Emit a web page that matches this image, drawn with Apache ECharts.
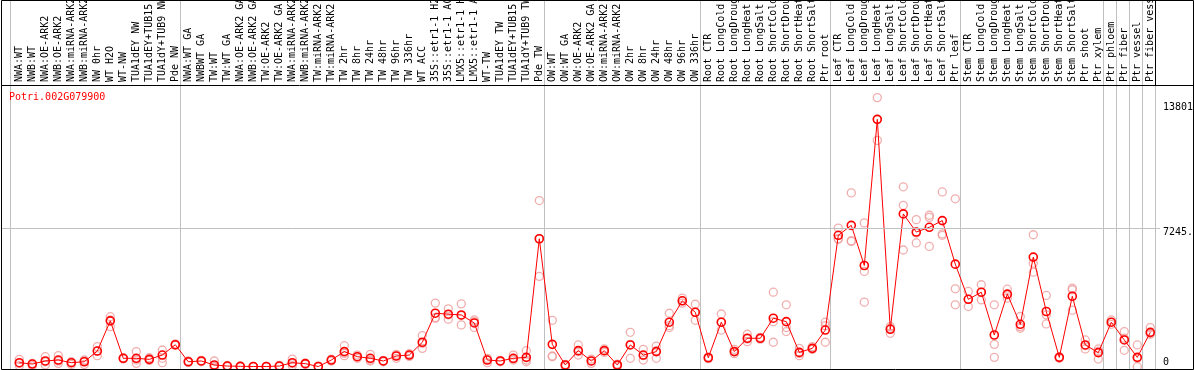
<!DOCTYPE html>
<html><head><meta charset="utf-8">
<script src="https://cdn.jsdelivr.net/npm/echarts@6/dist/echarts.min.js"></script>
<style>html,body{margin:0;padding:0;background:#fff}#c{width:1194px;height:370px}</style>
</head><body><div id="c"></div>
<script>
const geneId = 'Potri.002G079900';
const categories = [
'NWA:WT','NWB:WT','NWA:OE-ARK2','NWB:OE-ARK2','NWA:miRNA-ARK2','NWB:miRNA-ARK2','NW 0hr','WT H2O','WT-NW','TUA1dEY NW',
'TUA1dEY+TUB15','TUA1dY+TUB9 NW','Pde NW','NWA:WT GA','NWBWT GA','TW:WT','TW:WT GA','NWA:OE-ARK2 GA','NWB:OE-ARK2 GA','TW:OE-ARK2',
'TW:OE-ARK2 GA','NWA:miRNA-ARK2','NWB:miRNA-ARK2','TW:miRNA-ARK2','TW:miRNA-ARK2','TW 2hr','TW 8hr','TW 24hr','TW 48hr','TW 96hr',
'TW 336hr','WT ACC','35S::etr1-1 H2O','35S::etr1-1 ACC','LMX5::etr1-1 H2O','LMX5::etr1-1 ACC','WT-TW','TUA1dEY TW','TUA1dEY+TUB15','TUA1dY+TUB9 TW',
'Pde TW','OW:WT','OW:WT GA','OW:OE-ARK2','OW:OE-ARK2 GA','OW:miRNA-ARK2','OW:miRNA-ARK2','OW 2hr','OW 8hr','OW 24hr',
'OW 48hr','OW 96hr','OW 336hr','Root CTR','Root LongCold','Root LongDrought','Root LongHeat','Root LongSalt','Root ShortCold','Root ShortDrought',
'Root ShortHeat','Root ShortSalt','Ptr root','Leaf CTR','Leaf LongCold','Leaf LongDrought','Leaf LongHeat','Leaf LongSalt','Leaf ShortCold','Leaf ShortDrought',
'Leaf ShortHeat','Leaf ShortSalt','Ptr leaf','Stem CTR','Stem LongCold','Stem LongDrought','Stem LongHeat','Stem LongSalt','Stem ShortCold','Stem ShortDrought',
'Stem ShortHeat','Stem ShortSalt','Ptr shoot','Ptr xylem','Ptr phloem','Ptr fiber','Ptr vessel','Ptr fiber vessel'
];
const meanValues = [
210,140,300,350,210,260,820,2400,440,440,
385,610,1150,260,300,90,35,20,10,10,
35,210,160,10,350,790,525,440,300,560,
610,1280,2800,2750,2710,2290,350,300,440,490,
6700,1170,90,840,300,840,90,1140,610,790,
2330,3450,2850,470,2330,790,1490,1490,2540,2360,
750,960,1920,6880,7400,5300,12950,1960,8000,7050,
7300,7650,5370,3530,3900,1660,3800,2220,5740,2890,
490,3690,1140,735,2330,1400,490,1800
];
const rep1 = [
385,175,525,580,260,300,1050,2620,440,790,
470,875,1150,260,330,300,35,20,0,0,
35,400,160,0,400,1100,610,650,300,440,
610,1630,3330,3030,3290,2450,210,300,610,840,
8700,2430,90,1140,400,840,90,1800,910,1080,
2800,3590,3270,470,2760,910,1700,1490,3900,3240,
960,1050,2330,7260,9100,7530,14090,2100,9420,7700,
7930,9150,8790,3940,4290,3240,4060,2630,6910,3730,
490,4110,1400,930,2450,1840,1140,2050
];
const rep2 = [
50,50,90,175,120,120,580,2100,400,175,
330,440,1190,230,260,0,0,35,0,0,
70,50,190,0,300,580,440,350,330,650,
680,960,2540,2490,2190,2050,440,260,350,260,
4730,560,0,610,175,930,35,440,350,440,
2050,3450,2430,520,1920,790,1450,1540,1280,1840,
580,930,1280,6700,6560,4990,11850,1750,8450,6480,
6300,6880,4080,3150,3500,1170,3590,2010,5420,2240,
520,2960,930,400,2330,860,0,1700
];
const rep3 = [
175,140,260,300,210,350,820,2450,470,350,
385,210,1120,300,300,0,70,0,20,20,
0,160,120,35,330,700,525,300,260,580,
540,1220,2570,2710,2680,2360,350,330,400,350,
6700,525,120,790,300,750,140,1170,580,840,
2150,3330,2850,420,2330,680,1310,1440,2360,2050,
700,910,2150,6680,6600,3380,12950,2010,6110,7000,
7820,6950,3240,3530,3900,490,3760,2100,4950,2710,
440,4030,1100,820,2220,1490,440,1750
];
const groupBoundaries = [0,13,41,53,63,73,84,85,86,87];
const yTickValues = [0,7245,13801];
const yTickLabels = ['0','7245.','13801'];
const yGridVisible = [false,true,false];

const FONT = 'DejaVu Sans Mono';
const chart = echarts.init(document.getElementById('c'), null, {renderer:'canvas', width:1194, height:370});
const repData = [];
[rep1, rep2, rep3].forEach(arr => arr.forEach((v, i) => repData.push([i, v])));
const sepSet = new Set(groupBoundaries);
// label text placed half a line below (or above, for 0) its level
const labelText = yTickLabels.map((t, j) => yTickValues[j] === 0 ? t + '\n' : '\n' + t);
const markLineData = yTickValues.map((v, j) => [
  {yAxis: v, x: 2,
   lineStyle: {color: yGridVisible[j] ? '#c0c0c0' : 'rgba(0,0,0,0)', width:1, type:'solid'},
   label: {formatter: labelText[j]}},
  {yAxis: v, x: 1160}
]);

chart.setOption({
  animation: false,
  backgroundColor: '#fff',
  title: {text: geneId, left: 9, top: 92, padding: 0,
    textStyle: {color:'#ff0000', fontSize:10, fontFamily:FONT, fontWeight:'normal'}},
  grid: [
    {left: 12.8, right: 37.2, top: 0, bottom: 1, containLabel: false, outerBoundsMode: 'none'},
    {left: 10.7, right: 38.7, top: 0, bottom: 1, containLabel: false, outerBoundsMode: 'none'}
  ],
  xAxis: [
    {type:'category', gridIndex:0, data: categories, position:'top', offset:-85, boundaryGap:true,
     axisLine:{show:false}, axisTick:{show:false}, splitLine:{show:false},
     axisLabel:{show:true, interval:0, rotate:90, margin:3, fontSize:10, fontFamily:FONT, color:'#000', hideOverlap:false}},
    {type:'category', gridIndex:1, data: categories, boundaryGap:true,
     axisLine:{show:false}, axisTick:{show:false}, axisLabel:{show:false},
     splitLine:{show:true, interval: (i) => sepSet.has(i), lineStyle:{color:'#c0c0c0', width:1}}}
  ],
  yAxis: [
    {type:'value', gridIndex:0, min:-120, max:19200, show:false, splitLine:{show:false}},
    {type:'value', gridIndex:1, show:false, splitLine:{show:false}}
  ],
  series: [
    {type:'scatter', xAxisIndex:0, yAxisIndex:0, data: repData, symbol:'circle', symbolSize:8, silent:true, z:2,
     itemStyle:{color:'rgba(0,0,0,0)', borderColor:'#ee9a9a', borderWidth:1.3}},
    {type:'line', xAxisIndex:0, yAxisIndex:0, data: meanValues, symbol:'circle', symbolSize:8, showAllSymbol:true, z:3, silent:true,
     lineStyle:{color:'#ff0000', width:1},
     itemStyle:{color:'rgba(0,0,0,0)', borderColor:'#ff0000', borderWidth:1.6},
     markLine:{silent:true, symbol:'none', animation:false, data: markLineData,
       label:{position:'end', distance:3, color:'#000', fontSize:10, lineHeight:8, fontFamily:FONT}}}
  ],
  graphic: [
    {type:'rect', shape:{x:1.5, y:0.5, width:1192, height:369}, style:{fill:'none', stroke:'#000', lineWidth:1}, silent:true, z:100},
    {type:'line', shape:{x1:1.5, y1:85.5, x2:1193.5, y2:85.5}, style:{stroke:'#000', lineWidth:1}, silent:true, z:100},
    {type:'line', shape:{x1:1155.5, y1:0, x2:1155.5, y2:85.5}, style:{stroke:'#000', lineWidth:1}, silent:true, z:100}
  ]
});
</script>
</body></html>
